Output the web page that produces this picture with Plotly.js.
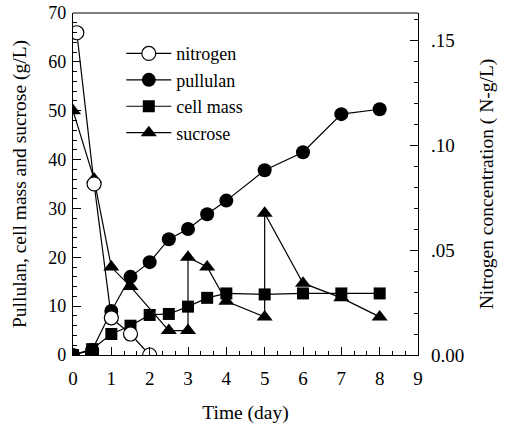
<!DOCTYPE html>
<html>
<head>
<meta charset="utf-8">
<script src="https://cdn.plot.ly/plotly-3.0.1.min.js"></script>
<style>html,body{margin:0;padding:0;background:#fff;}#chart{width:514px;height:425px;}</style>
</head>
<body>
<div id="chart"></div>
<script>
// Nitrogen (right axis, N-g/L)
const nitrogenDays = [0.1, 0.55, 1, 1.5, 2];
const nitrogenVals = [0.1535, 0.0815, 0.0177, 0.010, 0.0];

// Pullulan (g/L)
const pullulanDays = [0, 0.5, 1, 1.5, 2, 2.5, 3, 3.5, 4, 5, 6, 7, 8];
const pullulanVals = [0, 1, 9, 16, 19, 23.7, 25.8, 28.8, 31.6, 37.8, 41.5, 49.3, 50.3];

// Cell mass (g/L)
const cellDays = [0, 0.5, 1, 1.5, 2, 2.5, 3, 3.5, 4, 5, 6, 7, 8];
const cellVals = [0, 1.2, 4.3, 6, 8.2, 8.4, 9.9, 11.7, 12.6, 12.4, 12.6, 12.6, 12.6];

// Sucrose (g/L), feeding at day 3 and day 5
const sucroseDays = [0, 0.55, 1, 1.5, 2.5, 3, 3, 3.5, 4, 5, 5, 6, 7, 8];
const sucroseVals = [50, 36, 18, 14, 5, 5, 20, 18, 11, 7.8, 29, 14.7, 11.7, 7.8];

const leftTickVals = [0, 10, 20, 30, 40, 50, 60, 70];
const rightTickVals = [0, 0.05, 0.10, 0.15];
const rightTickText = ['0.00', '.05', '.10', '.15'];
const xTickVals = [0, 1, 2, 3, 4, 5, 6, 7, 8, 9];

const FONT = '"Liberation Serif", serif';
const lineStyle = {color: '#000', width: 1.2};

const traces = [
  {x: nitrogenDays, y: nitrogenVals, name: 'nitrogen', yaxis: 'y2', mode: 'lines+markers',
   line: lineStyle,
   marker: {symbol: 'circle', size: 14, color: '#fff', line: {color: '#000', width: 1.2}}},
  {x: pullulanDays, y: pullulanVals, name: 'pullulan', mode: 'lines+markers',
   line: lineStyle,
   marker: {symbol: 'circle', size: 14, color: '#000'}},
  {x: cellDays, y: cellVals, name: 'cell mass', mode: 'lines+markers',
   line: lineStyle,
   marker: {symbol: 'square', size: 12, color: '#000'}},
  {x: sucroseDays, y: sucroseVals, name: 'sucrose', mode: 'lines+markers',
   line: lineStyle,
   marker: {symbol: 'triangle-up', size: 14, color: '#000'}}
];

const layout = {
  width: 514, height: 425,
  margin: {l: 73, r: 96, t: 13, b: 70},
  paper_bgcolor: '#fff', plot_bgcolor: '#fff',
  font: {family: FONT, size: 18, color: '#000'},
  showlegend: true,
  legend: {x: 0.14, y: 0.935, xanchor: 'left', yanchor: 'top', bgcolor: 'rgba(0,0,0,0)',
           font: {family: FONT, size: 18, color: '#000'}, itemwidth: 45, traceorder: 'normal'},
  xaxis: {
    range: [0, 9], tickvals: xTickVals, ticks: 'inside', ticklen: 8, tickcolor: '#000',
    showgrid: false, zeroline: false, showline: true, linecolor: '#000', linewidth: 1.2,
    mirror: false, tickfont: {family: FONT, size: 19}, ticklabelstandoff: 6,
    minor: {dtick: 1/3, ticks: 'inside', ticklen: 4, tickcolor: '#000', showgrid: false},
    title: {text: 'Time (day)', font: {family: FONT, size: 19.5}, standoff: 17}
  },
  yaxis: {
    range: [0, 70], tickvals: leftTickVals, ticks: 'inside', ticklen: 8, tickcolor: '#000',
    showgrid: false, zeroline: false, showline: true, linecolor: '#000', linewidth: 1.2,
    tickfont: {family: FONT, size: 18}, ticklabelstandoff: 2,
    minor: {dtick: 2, ticks: 'inside', ticklen: 4, tickcolor: '#000', showgrid: false},
    title: {text: 'Pullulan, cell mass and sucrose (g/L)', font: {family: FONT, size: 19.5}, standoff: 16}
  },
  yaxis2: {
    overlaying: 'y', side: 'right', range: [0, 0.1629],
    tickvals: rightTickVals, ticktext: rightTickText, ticks: 'inside', ticklen: 8, tickcolor: '#000',
    showgrid: false, zeroline: false, showline: true, linecolor: '#000', linewidth: 1.2,
    tickfont: {family: FONT, size: 19}, ticklabelstandoff: 8,
    minor: {dtick: 0.01, ticks: 'inside', ticklen: 4, tickcolor: '#000', showgrid: false},
    title: {text: 'Nitrogen concentration ( N-g/L)', font: {family: FONT, size: 19.5}, standoff: 16}
  },
  shapes: [
    {type: 'line', xref: 'paper', yref: 'paper', x0: 0, x1: 1, y0: 1, y1: 1,
     line: {color: '#000', width: 1.2}}
  ]
};

Plotly.newPlot('chart', traces, layout, {displayModeBar: false, staticPlot: true});
</script>
</body>
</html>
